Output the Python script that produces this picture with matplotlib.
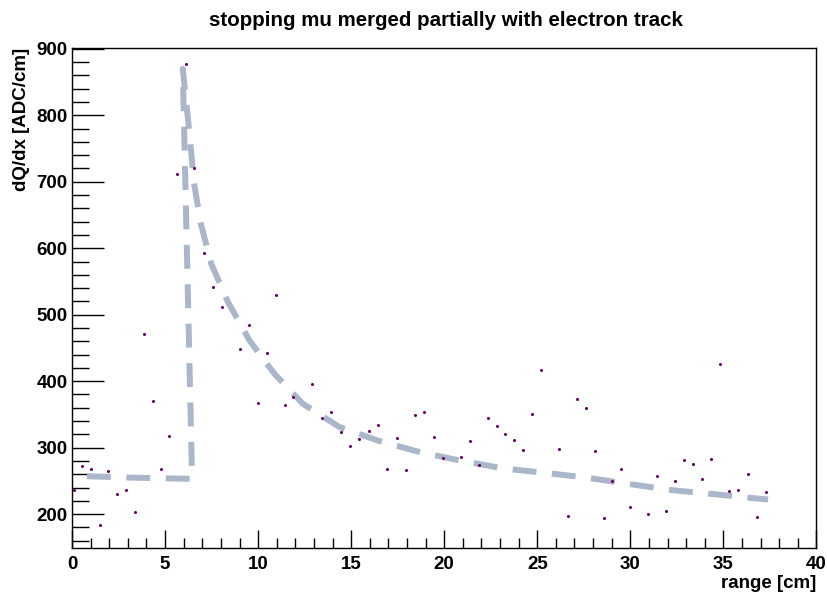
import matplotlib
matplotlib.use("Agg")
import matplotlib.pyplot as plt
from matplotlib.ticker import MultipleLocator

plt.rcParams['font.family'] = ['Liberation Sans', 'DejaVu Sans']
plt.rcParams['font.weight'] = 'bold'
plt.rcParams['axes.labelweight'] = 'bold'

# measured dQ/dx points
range_cm = [0.1, 0.55, 1.02, 1.48, 1.95, 2.41, 2.88, 3.40, 3.88, 4.36, 4.77, 5.22,
            5.65, 6.11, 6.58, 7.08, 7.56, 8.04, 9.03, 9.53, 10.01, 10.49, 10.97,
            11.46, 11.9, 12.92, 13.44, 13.92, 14.44, 14.96, 15.44, 15.94, 16.44,
            16.94, 17.44, 17.96, 18.44, 18.93, 19.43, 19.91, 20.89, 21.36, 21.86,
            22.34, 22.83, 23.29, 23.77, 24.24, 24.74, 25.22, 26.17, 26.65, 27.11,
            27.6, 28.08, 28.56, 29.03, 29.51, 29.99, 30.96, 31.44, 31.92, 32.39,
            32.89, 33.35, 33.85, 34.35, 34.81, 35.3, 35.8, 36.32, 36.8, 37.28]
dqdx = [236, 272, 268, 183, 265, 230, 236, 203, 471, 370, 268, 318,
        711, 877, 720, 593, 541, 511, 449, 485, 367, 442, 530,
        364, 376, 395, 344, 353, 324, 303, 313, 325, 334,
        268, 314, 266, 349, 354, 316, 285, 286, 310, 274,
        344, 333, 321, 311, 296, 350, 417, 298, 197, 373,
        360, 295, 194, 250, 268, 210, 200, 258, 205, 250,
        282, 276, 253, 283, 426, 235, 236, 260, 195, 234]

# expected curve
fit_x = [0.8, 3.0, 6.45, 5.95, 6.33, 6.54, 6.9, 7.49, 8.38, 9.54, 10.88, 12.4,
         14.37, 16.5, 18.73, 20.95, 23.22, 25.45, 27.74, 30.0, 32.24, 34.5,
         36.8, 37.4]
fit_y = [257, 255, 253, 870, 767, 701, 639, 576, 519, 461, 411, 366,
         331, 310, 293, 280, 268.5, 262, 254.5, 245, 236, 230,
         223.5, 222]

fig = plt.figure(figsize=(8.28, 5.95), dpi=100)
ax = fig.add_axes([0.087, 0.079, 0.899, 0.840])

ax.plot(fit_x, fit_y, color='#aab6c9', lw=4.3, dashes=(4, 2.6), zorder=2)
ax.plot(range_cm, dqdx, 'o', color='#660066', ms=2.2, mew=0, zorder=3)

ax.set_xlim(0, 40)
ax.set_ylim(149, 901)
ax.xaxis.set_major_locator(MultipleLocator(5))
ax.xaxis.set_minor_locator(MultipleLocator(1))
ax.yaxis.set_major_locator(MultipleLocator(100))
ax.yaxis.set_minor_locator(MultipleLocator(20))
ax.tick_params(which='both', direction='in', top=False, right=False,
               labelsize=13.5, width=1)
ax.tick_params(axis='x', which='major', length=13, pad=6)
ax.tick_params(axis='x', which='minor', length=7)
ax.tick_params(axis='y', which='major', length=23, pad=3)
ax.tick_params(axis='y', which='minor', length=12)
for s in ax.spines.values():
    s.set_linewidth(1)

ax.set_xlabel('range [cm]', fontsize=13.5, fontweight='bold', loc='right', labelpad=1)
ax.set_ylabel('dQ/dx [ADC/cm]', fontsize=13.5, fontweight='bold', loc='top', labelpad=5)
fig.text(0.538, 0.966, 'stopping mu merged partially with electron track',
         ha='center', va='center', fontsize=14.8, fontweight='bold')

fig.savefig('out.png', dpi=100)
